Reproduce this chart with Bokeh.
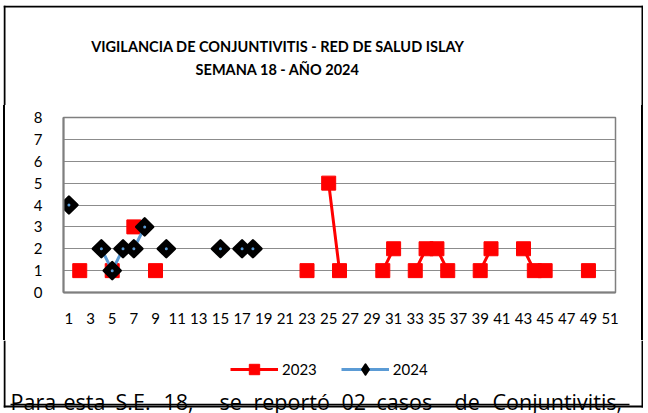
import math
from bokeh.plotting import figure
from bokeh.models import Legend, LegendItem, FixedTicker, Range1d
from bokeh.core.properties import value
from bokeh.embed import file_html
from bokeh.resources import INLINE

# ---------------- data ----------------
weeks = list(range(1, 52))
x_tick_labels = list(range(1, 52, 2))
y_ticks = list(range(0, 9))

weeks_2023 = [2, 5, 7, 9, 23, 25, 26, 30, 31, 33, 34, 35, 36, 39, 40, 43, 44, 45, 49]
cases_2023 = [1, 1, 3, 1, 1, 5, 1, 1, 2, 1, 2, 2, 1, 1, 2, 2, 1, 1, 1]

weeks_2024 = [1, 4, 5, 6, 7, 8, 10, 15, 17, 18]
cases_2024 = [4, 2, 1, 2, 2, 3, 2, 2, 2, 2]

series_names = ["2023", "2024"]
title_1 = "VIGILANCIA DE CONJUNTIVITIS  - RED DE SALUD ISLAY"
title_2 = "SEMANA 18 -  AÑO 2024"
note_words = ["Para", "esta", "S.E.", "18,", "se", "reportó", "02", "casos", "de", "Conjuntivitis,"]


def full_series(wks, vals):
    d = dict(zip(wks, vals))
    return [d.get(w, float("nan")) for w in weeks]


y2023 = full_series(weeks_2023, cases_2023)
y2024 = full_series(weeks_2024, cases_2024)

# ---------------- layout (page px) ----------------
BL, BR = 3, 643            # outer border box left/right
BT, BB = 5, 407            # outer border box top/bottom
BW = 2                     # border width
HDR_B = 105                # bottom of header band
MAIN_B = 340               # bottom of chart band
PAGE_B = 413               # bottom of the window
FR_L, FR_R, FR_T, FR_B = 63, 615, 117, 292
FONT = "Lato"
RED, BLUE, BLACK = "#ff0000", "#5b9bd5", "#000000"


def band(top, bottom, border_top=None, border_bottom=None, margin_top=0):
    f = figure(width=BR - BL, height=bottom - top, output_backend="svg",
               toolbar_location=None, x_range=Range1d(BL, BR),
               y_range=Range1d(bottom, top), x_axis_location=None,
               y_axis_location=None, min_border=0, margin=(margin_top, 0, 0, BL))
    f.grid.visible = False
    f.outline_line_color = None
    f.background_fill_color = "white"
    f.border_fill_color = "white"
    y_top = top if border_top is None else border_top
    y_bot = bottom if border_bottom is None else border_bottom
    f.quad(left=[BL, BR - BW], right=[BL + BW, BR], top=[y_top, y_top],
           bottom=[y_bot, y_bot], fill_color=BLACK, line_color=None)
    if border_top is not None:
        f.quad(left=[BL], right=[BR], top=[border_top], bottom=[border_top + BW],
               fill_color=BLACK, line_color=None)
    if border_bottom is not None:
        f.quad(left=[BL], right=[BR], top=[border_bottom - BW], bottom=[border_bottom],
               fill_color=BLACK, line_color=None)
    return f


# ---------------- header with titles ----------------
hdr = band(BT, HDR_B, border_top=BT, margin_top=BT)
hdr.text(x=[279, 279], y=[46, 69], text=[title_1, title_2],
         text_align="center", text_baseline="middle",
         text_font=value(FONT), text_font_style="bold",
         text_font_size="14.5px", text_color=BLACK)

# ---------------- main chart ----------------
CL, CR = BL + BW, BR - BW
p = figure(width=CR - CL, height=MAIN_B - HDR_B, output_backend="svg",
           toolbar_location=None, x_range=Range1d(0.5, 51.5),
           y_range=Range1d(0, 8), margin=(0, 0, 0, CL),
           min_border_left=FR_L - CL, min_border_right=CR - FR_R,
           min_border_top=FR_T - HDR_B, min_border_bottom=MAIN_B - FR_B,
           styles={"box-shadow": "-2px 0 0 0 #000000, 2px 0 0 0 #000000"})
p.background_fill_color = "white"
p.border_fill_color = "white"
p.outline_line_color = "#7f7f7f"
p.outline_line_width = 1.5

p.xgrid.visible = False
p.ygrid.grid_line_color = "#8c8c8c"
p.ygrid.grid_line_width = 1.2
p.ygrid.ticker = FixedTicker(ticks=y_ticks)

p.xaxis.ticker = FixedTicker(ticks=x_tick_labels)
p.yaxis.ticker = FixedTicker(ticks=y_ticks)
for ax in (p.xaxis, p.yaxis):
    ax.axis_line_color = "#7f7f7f"
    ax.axis_line_width = 2
    ax.major_tick_line_color = None
    ax.minor_tick_line_color = None
    ax.major_label_text_font = FONT
    ax.major_label_text_color = BLACK
    ax.major_label_text_font_size = "15px"
p.xaxis.major_label_standoff = 14
p.yaxis.major_label_standoff = 15

line_kw_23 = dict(line_color=RED, line_width=3)
sq_kw_23 = dict(marker="square", size=14, fill_color=RED, line_color=RED)
line_kw_24 = dict(line_color=BLUE, line_width=3)
dia_kw_24 = dict(marker="square", angle=math.pi / 4, size=12, fill_color=BLACK,
                 line_color=BLACK, line_width=2.5, line_join="round")
dot_kw_24 = dict(marker="circle", size=3, fill_color=BLUE, line_color=None)

p.line(weeks, y2023, **line_kw_23)
p.scatter(weeks_2023, cases_2023, **sq_kw_23)
p.line(weeks, y2024, **line_kw_24)
p.scatter(weeks_2024, cases_2024, **dia_kw_24)
p.scatter(weeks_2024, cases_2024, **dot_kw_24)

# ---------------- footer: legend + note ----------------
ftr = band(MAIN_B, PAGE_B, border_bottom=BB)
# legend keys: renderers carrying the series styles, anchored off-canvas
OFF = [-1000]
k23 = [ftr.line(x=OFF, y=OFF, **line_kw_23), ftr.scatter(x=OFF, y=OFF, **sq_kw_23)]
k24 = [ftr.line(x=OFF, y=OFF, **line_kw_24),
       ftr.scatter(x=OFF, y=OFF, marker="diamond", fill_color=BLACK,
                   line_color=BLACK, line_width=2, line_join="round")]
legend = Legend(items=[LegendItem(label=series_names[0], renderers=k23),
                       LegendItem(label=series_names[1], renderers=k24)],
                orientation="horizontal", location=(230 - BL, PAGE_B - 382),
                glyph_width=48, glyph_height=26, label_standoff=4, spacing=24,
                padding=0, margin=0, border_line_color=None,
                background_fill_color=None, background_fill_alpha=0,
                label_text_font=FONT, label_text_font_size="15px",
                label_text_color=BLACK, label_height=26)
ftr.add_layout(legend)

word_x = [10, 63, 115, 163, 219, 253, 341, 376, 454, 492]
ftr.text(x=word_x, y=[401] * len(word_x), text=note_words,
         text_align="left", text_baseline="alphabetic",
         text_font=value("Open Sans"), text_font_size="21.5px", text_color=BLACK)
ftr.segment(x0=[10], y0=[404], x1=[629], y1=[404],
            line_color=BLACK, line_width=1.5)

open("out.html", "w").write(file_html([hdr, p, ftr], INLINE))
